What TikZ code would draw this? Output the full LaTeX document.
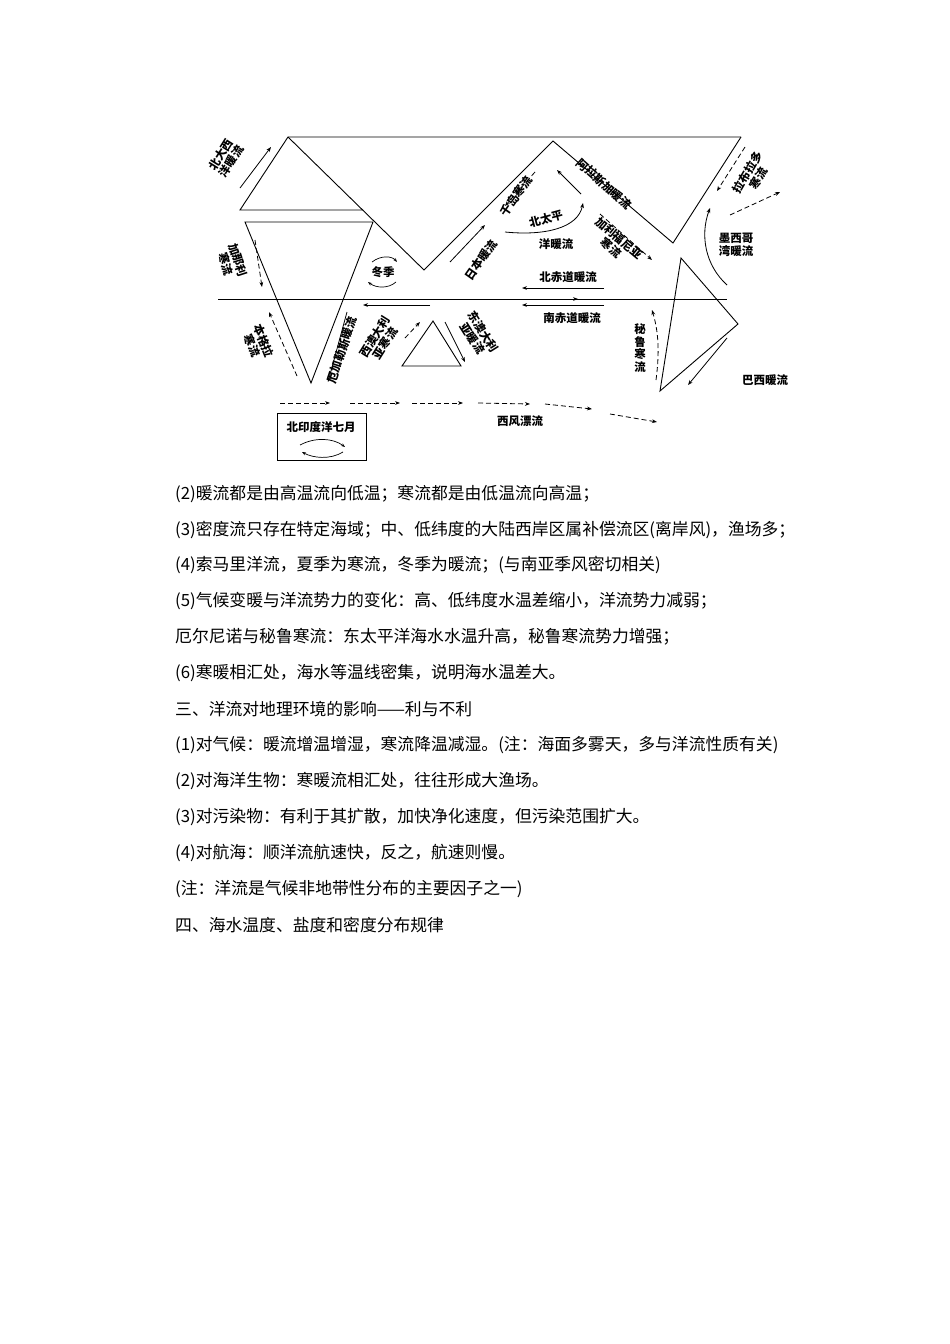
\documentclass[tikz,border=0pt]{standalone}
\usepackage{fontspec}
\setmainfont{Noto Sans CJK SC}
\usetikzlibrary{arrows.meta}
\begin{document}
\begin{tikzpicture}[x=1pt,y=-1pt,
  geo/.style={line width=0.9pt,black},
  warm/.style={-{Stealth[length=5pt]},line width=0.8pt},
  cold/.style={-{Stealth[length=5pt]},dash pattern=on 5pt off 3pt,line width=0.8pt},
  lab/.style={font=\fontsize{11.5}{12.5}\selectfont\bfseries,align=center,inner sep=0pt},
  body/.style={anchor=west,font=\fontsize{16.8}{17}\selectfont,inner sep=0pt}]
\useasboundingbox[fill=white] (0,0) rectangle (950,1344);
% geography
\draw[geo] (741,137) -- (288,137) -- (240,210) -- (363,210);
\draw[geo] (288,137) -- (424,270) -- (553,141) -- (673,243) -- (741,137);
\draw[geo] (245,222) -- (373,222) -- (311,383) -- cycle;
\draw[geo] (218,299) -- (727,299);
\draw[geo] (402,366) -- (433,321) -- (461,366) -- cycle;
\draw[geo] (681,258) -- (738,324) -- (660,391) -- cycle;
% currents
\draw[warm] (240,188) -- (271,147);
\node[lab,rotate=58] at (226,158) {北大西\\洋暖流};
\draw[cold] (255,240) -- (262,287);
\node[lab,rotate=-72] at (232,262) {加那利\\寒流};
\draw[cold] (297,376) -- (269,312);
\node[lab,rotate=-68] at (258,343) {本格拉\\寒流};
\draw[warm] (347,312) -- (328,382);
\node[lab,rotate=72] at (342,350) {厄加勒斯暖流};
\draw[cold] (405,338) -- (420,322);
\node[lab,rotate=58] at (380,340) {西澳大利\\亚寒流};
\draw[warm] (445,322) -- (465,362);
\node[lab,rotate=-58] at (478,335) {东澳大利\\亚暖流};
\draw[warm] (430,305) -- (363,305);
\node[lab] (dj) at (383,272) {冬季};
\draw[-{Stealth[length=4pt]},line width=0.7pt] (372,262) .. controls (381,255) and (392,256) .. (397,262);
\draw[-{Stealth[length=4pt]},line width=0.7pt] (396,282) .. controls (388,289) and (376,288) .. (368,282);
\draw[warm] (450,262) -- (485,225);
\node[lab,rotate=55] at (481,260) {日本暖流};
\draw[cold] (535,172) -- (505,206);
\node[lab,rotate=55] at (516,196) {千岛寒流};
\draw[warm] (581,194) -- (557,170);
\node[lab,rotate=-42] at (604,184) {阿拉斯加暖流};
\draw[warm] (505,232) .. controls (545,236) and (578,228) .. (583,203);
\node[lab,rotate=15] at (546,219) {北太平};
\node[lab] at (556,244) {洋暖流};
\draw[cold] (600,214) -- (652,260);
\node[lab,rotate=-40] at (615,243) {加利福尼亚\\寒流};
\node[lab] at (568,277) {北赤道暖流};
\draw[warm] (604,288) -- (522,288);
\draw[warm] (530,299) -- (578,299);
\draw[warm] (604,305) -- (522,305);
\node[lab] at (572,318) {南赤道暖流};
\draw[warm] (727,285) .. controls (705,265) and (700,235) .. (710,208);
\node[lab] at (736,245) {墨西哥\\湾暖流};
\draw[cold] (745,147) -- (717,191);
\node[lab,rotate=60] at (753,175) {拉布拉多\\寒流};
\draw[cold] (730,215) -- (780,192);
\draw[cold] (656,380) .. controls (660,350) and (658,330) .. (652,310);
\node[lab] at (640,348) {秘\\鲁\\寒\\流};
\draw[warm] (727,338) -- (688,385);
\node[lab] at (765,380) {巴西暖流};
\foreach \a/\b/\c/\d in {280/403/330/403,350/403/400/403,412/403/463/403,478/403/530/404,545/404/592/409,610/414/657/422}
  \draw[cold] (\a,\b) -- (\c,\d);
\node[lab] at (520,421) {西风漂流};
\draw[line width=0.9pt] (277,413) rectangle (366,460);
\node[lab] at (321,427) {北印度洋七月};
\draw[-{Stealth[length=4pt]},line width=0.7pt] (300,445) .. controls (315,437) and (333,438) .. (345,447);
\draw[-{Stealth[length=4pt]},line width=0.7pt] (343,452) .. controls (330,460) and (313,458) .. (302,452);
% body text
\node[body] at (175,494) {(2)暖流都是由高温流向低温；寒流都是由低温流向高温；};
\node[body] at (175,530) {(3)密度流只存在特定海域；中、低纬度的大陆西岸区属补偿流区(离岸风)，渔场多；};
\node[body] at (175,565) {(4)索马里洋流，夏季为寒流，冬季为暖流；(与南亚季风密切相关)};
\node[body] at (175,601) {(5)气候变暖与洋流势力的变化：高、低纬度水温差缩小，洋流势力减弱；};
\node[body] at (175,637) {厄尔尼诺与秘鲁寒流：东太平洋海水水温升高，秘鲁寒流势力增强；};
\node[body] at (175,673) {(6)寒暖相汇处，海水等温线密集，说明海水温差大。};
\node[body] at (175,709) {三、洋流对地理环境的影响——利与不利};
\node[body] at (175,745) {(1)对气候：暖流增温增湿，寒流降温减湿。(注：海面多雾天，多与洋流性质有关)};
\node[body] at (175,781) {(2)对海洋生物：寒暖流相汇处，往往形成大渔场。};
\node[body] at (175,817) {(3)对污染物：有利于其扩散，加快净化速度，但污染范围扩大。};
\node[body] at (175,853) {(4)对航海：顺洋流航速快，反之，航速则慢。};
\node[body] at (175,889) {(注：洋流是气候非地带性分布的主要因子之一)};
\node[body] at (175,925) {四、海水温度、盐度和密度分布规律};
\end{tikzpicture}
\end{document}
